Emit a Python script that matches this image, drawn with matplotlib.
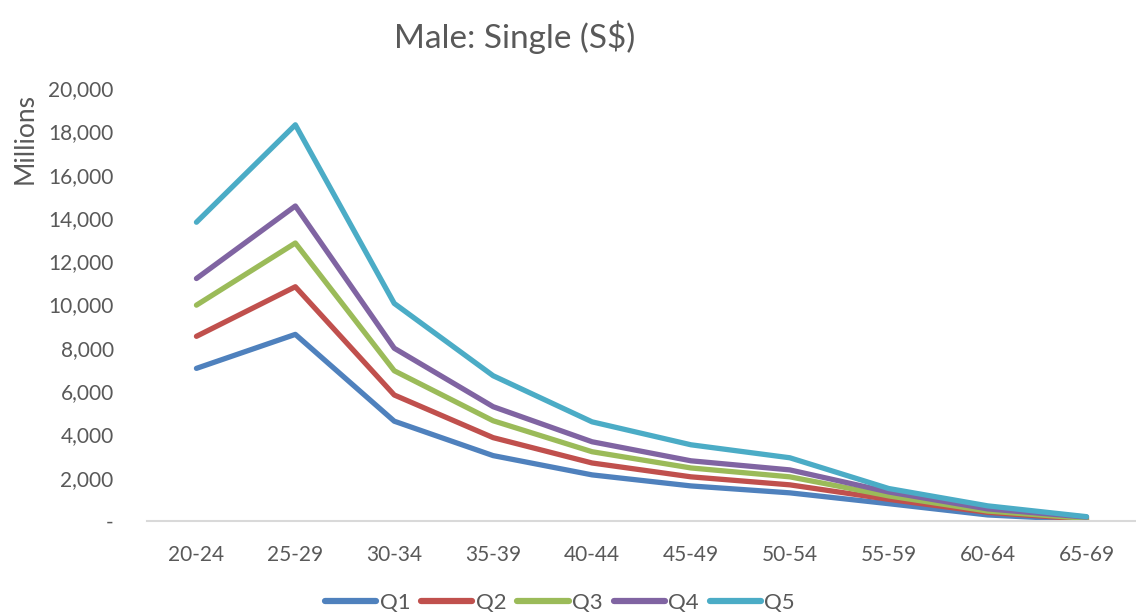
import matplotlib
matplotlib.use('Agg')
import matplotlib.pyplot as plt
from matplotlib.ticker import FuncFormatter

# ---- data ----
age_groups = ['20-24', '25-29', '30-34', '35-39', '40-44',
              '45-49', '50-54', '55-59', '60-64', '65-69']
q1 = [7050, 8620, 4610, 3020, 2130, 1620, 1300, 800, 280, 50]
q2 = [8530, 10820, 5820, 3850, 2680, 2040, 1670, 1000, 400, 80]
q3 = [9970, 12840, 6940, 4630, 3200, 2450, 2040, 1160, 460, 120]
q4 = [11200, 14550, 7980, 5280, 3660, 2780, 2360, 1340, 560, 180]
q5 = [13800, 18300, 10050, 6710, 4580, 3520, 2920, 1500, 700, 200]
series_names = ['Q1', 'Q2', 'Q3', 'Q4', 'Q5']
y_ticks = [0, 2000, 4000, 6000, 8000, 10000, 12000, 14000, 16000, 18000, 20000]

colors = ['#4F81BD', '#C0504D', '#9BBB59', '#8064A2', '#4BACC6']
GREY = '#595959'

plt.rcParams['font.family'] = ['Lato', 'DejaVu Sans']

fig = plt.figure(figsize=(11.36, 6.15), dpi=100)
ax = fig.add_axes([147 / 1136, 1 - 521 / 615, 1 - 147 / 1136, (521 - 88) / 615])

x = range(len(age_groups))
for name, vals, col in zip(series_names, [q1, q2, q3, q4, q5], colors):
    ax.plot(x, vals, color=col, linewidth=3.8, label=name,
            solid_capstyle='round', solid_joinstyle='round')

ax.set_xlim(-0.5, len(age_groups) - 0.5)
ax.set_ylim(0, 20000)
ax.set_xticks(list(x))
ax.set_xticklabels(age_groups)
ax.set_yticks(y_ticks)
ax.yaxis.set_major_formatter(FuncFormatter(lambda v, p: '-' if v == 0 else f'{int(v):,}'))
ax.tick_params(axis='both', length=0, labelsize=15, colors=GREY)
ax.tick_params(axis='x', pad=17)
ax.tick_params(axis='y', pad=24)

for s in ['top', 'right', 'left']:
    ax.spines[s].set_visible(False)
ax.spines['bottom'].set_color('#D9D9D9')
ax.spines['bottom'].set_linewidth(1.5)

fig.text(515 / 1136, 1 - 37 / 615, 'Male: Single (S$)', ha='center', va='center',
         fontsize=24, color=GREY)
fig.text(25 / 1136, 1 - 138 / 615, 'Millions', ha='center', va='center',
         rotation=90, fontsize=19, color=GREY)

leg = fig.legend(loc='center', bbox_to_anchor=(560 / 1136, 1 - 603 / 615), ncol=5,
                 frameon=False, fontsize=16, handlelength=2.3, handletextpad=0.15,
                 columnspacing=0.5)
for t in leg.get_texts():
    t.set_color(GREY)
for h in leg.get_lines():
    h.set_linewidth(4.5)

fig.savefig('out.png', dpi=100)
plt.close()
